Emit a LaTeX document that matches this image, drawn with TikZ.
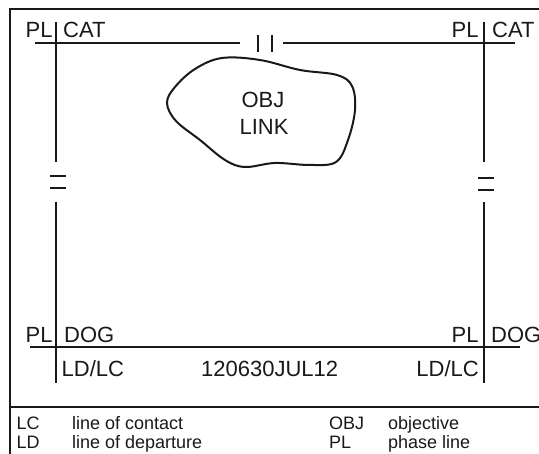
\documentclass[tikz,border=0pt]{standalone}
\usepackage{fontspec}
\setmainfont{Liberation Sans}
\begin{document}
\begin{tikzpicture}[x=1pt,y=-1pt,
  ink/.style={draw=black!90},
  frameline/.style={ink,line width=2.6pt},
  pline/.style={ink,line width=2pt},
  big/.style={font=\fontsize{22}{26}\selectfont,text=black!90,inner sep=0pt},
  small/.style={font=\fontsize{18}{20}\selectfont,text=black!90,inner sep=0pt}]
\useasboundingbox (0,0) rectangle (539,454);
% outer frame (extends beyond picture edges)
\draw[frameline] (10,470) -- (10,9) -- (560,9);
\draw[frameline] (10,407) -- (560,407);
% coordinates
\coordinate (tl1) at (35,43);  \coordinate (tl2) at (240,43);
\coordinate (tr1) at (283,43); \coordinate (tr2) at (515,43);
\coordinate (bl) at (30,347);  \coordinate (br) at (520,347);
\coordinate (lv1) at (56,22);  \coordinate (lv2) at (56,162);
\coordinate (lv3) at (56,202); \coordinate (lv4) at (56,383);
\coordinate (rv1) at (484,22); \coordinate (rv2) at (484,162);
\coordinate (rv3) at (484,202); \coordinate (rv4) at (484,383);
% phase line CAT
\draw[pline] (tl1) -- (tl2);
\draw[pline] (tr1) -- (tr2);
\draw[pline] (258,35) -- (258,52);
\draw[pline] (272,35) -- (272,52);
% phase line DOG
\draw[pline] (bl) -- (br);
% verticals with breaks
\draw[pline] (lv1) -- (lv2);
\draw[pline] (lv3) -- (lv4);
\draw[pline] (50,176) -- (66,176);
\draw[pline] (50,188) -- (66,188);
\draw[pline] (rv1) -- (rv2);
\draw[pline] (rv3) -- (rv4);
\draw[pline] (478,178) -- (494,178);
\draw[pline] (478,190) -- (494,190);
% objective blob
\draw[ink,line width=2pt] plot[smooth cycle,tension=0.6] coordinates {
 (222,58) (260,60) (300,70) (337,75) (352,86) (355,110) (348,140)
 (336,162) (310,165) (275,163) (245,167) (225,160) (200,140)
 (176,121) (167,103) (175,87) (195,69)};
\node[big,anchor=base] (obj) at (263,108) {OBJ};
\node[big,anchor=base] (link) at (264,135) {LINK};
% labels top
\node[big,anchor=base west] (pl1) at (25.5,38) {PL};
\node[big,anchor=base west] (cat1) at (63,38) {CAT};
\node[big,anchor=base west] (pl2) at (451.5,38) {PL};
\node[big,anchor=base west] (cat2) at (492,38) {CAT};
% labels bottom
\node[big,anchor=base west] (pl3) at (25.5,343) {PL};
\node[big,anchor=base west] (dog1) at (64,343) {DOG};
\node[big,anchor=base west] (pl4) at (451.5,343) {PL};
\node[big,anchor=base west] (dog2) at (491,343) {DOG};
\node[big,anchor=base west] (ld1) at (61.5,377) {LD/LC};
\node[big,anchor=base west] (dtg) at (201,377) {120630JUL12};
\node[big,anchor=base east] (ld2) at (479,377) {LD/LC};
% legend
\node[small,anchor=base west] (k1) at (16.5,429.5) {LC};
\node[small,anchor=base west] (v1) at (72,429.5) {line of contact};
\node[small,anchor=base west] (k2) at (16.5,449) {LD};
\node[small,anchor=base west] (v2) at (72,449) {line of departure};
\node[small,anchor=base west] (k3) at (329,429.5) {OBJ};
\node[small,anchor=base west] (v3) at (388,429.5) {objective};
\node[small,anchor=base west] (k4) at (329,449) {PL};
\node[small,anchor=base west] (v4) at (388,449) {phase line};
\end{tikzpicture}
\end{document}
